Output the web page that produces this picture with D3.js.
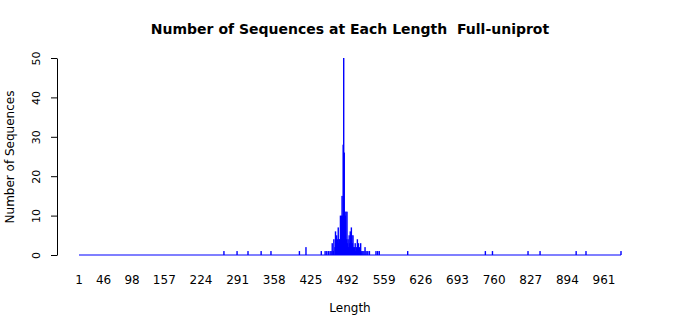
<!DOCTYPE html>
<html>
<head>
<meta charset="utf-8">
<script src="https://cdn.jsdelivr.net/npm/d3@7"></script>
<style>
  body { margin: 0; background: #fff; }
  text { font-family: "DejaVu Sans", sans-serif; }
</style>
</head>
<body>
<svg width="700" height="315"></svg>
<script>
// sequence lengths that have at least one sequence, and how many
const seqLengths = [266, 290, 310, 334, 352, 404, 416, 444, 451, 454, 457, 460, 462,
    464, 466, 467, 469, 470, 471, 472, 473, 474, 475, 476, 477, 478, 479, 480,
    481, 482, 483, 484, 485, 486, 487, 488, 489, 490, 491, 492, 493, 494, 495,
    496, 497, 498, 499, 500, 501, 502, 503, 504, 505, 506, 507, 508, 509, 510,
    511, 512, 513, 514, 516, 518, 520, 522, 524, 526, 529, 532,
    544, 547, 550, 602, 744, 757, 822, 844, 910, 928, 992];
const seqCounts = [1, 1, 1, 1, 1, 1, 2, 1, 1, 1, 1, 1, 1,
    3, 1, 4, 2, 6, 3, 5, 2, 4, 7, 3, 4, 4, 10, 4,
    10, 15, 10, 28, 50, 26, 11, 10, 11, 4, 11, 3, 4, 2, 5,
    3, 6, 5, 7, 5, 3, 5, 2, 1, 2, 3, 1, 2, 1, 4,
    2, 3, 1, 2, 3, 1, 1, 1, 2, 1, 1, 1,
    1, 1, 1, 1, 1, 1, 1, 1, 1, 1, 1];
const lengthRange = [1, 992];
const xTickValues = [1, 46, 98, 157, 224, 291, 358, 425, 492, 559, 626, 693, 760, 827, 894, 961];
const yTickValues = [0, 10, 20, 30, 40, 50];

const bars = seqLengths.map((d, i) => ({len: d, n: seqCounts[i]}));

let svg = d3.select("svg");

let x = d3.scaleLinear()
    .domain(lengthRange)
    .range([79, 621]);

let y = d3.scaleLinear()
    .domain([0, 50])
    .range([255, 58]);

// title
svg.append("text")
    .attr("x", 350)
    .attr("y", 34)
    .attr("text-anchor", "middle")
    .style("font-size", "14px")
    .style("font-weight", "bold")
    .style("white-space", "pre")
    .text("Number of Sequences at Each Length  Full-uniprot");

// baseline made by the empty bars
svg.append("line")
    .attr("x1", x(lengthRange[0]))
    .attr("x2", x(lengthRange[1]))
    .attr("y1", y(0))
    .attr("y2", y(0))
    .attr("stroke", "#0000ff")
    .attr("stroke-width", 1.2);

// bars
svg.append("g")
    .selectAll("rect")
    .data(bars)
    .enter()
    .append("rect")
    .attr("x", d => x(d.len) - 0.7)
    .attr("width", 1.4)
    .attr("y", d => y(d.n))
    .attr("height", d => y(0) - y(d.n))
    .attr("fill", "#0000ff");

// y axis
let yAxis = svg.append("g")
    .attr("transform", "translate(57,0)")
    .call(d3.axisLeft(y).tickValues(yTickValues).tickSize(6).tickSizeOuter(0));
yAxis.select(".domain").attr("stroke", "#000");
yAxis.selectAll("text")
    .attr("x", null).attr("dy", null)
    .attr("text-anchor", "middle")
    .attr("transform", "translate(-17,0) rotate(-90)")
    .style("font-size", "11px")
    .style("font-family", "DejaVu Sans");

// x tick labels (no axis line)
svg.append("g")
    .selectAll("text")
    .data(xTickValues)
    .enter()
    .append("text")
    .attr("x", d => x(d))
    .attr("y", 284)
    .attr("text-anchor", "middle")
    .style("font-size", "12px")
    .text(d => d);

// axis titles
svg.append("text")
    .attr("x", 350)
    .attr("y", 312)
    .attr("text-anchor", "middle")
    .style("font-size", "12px")
    .text("Length");

svg.append("text")
    .attr("transform", "translate(14,157) rotate(-90)")
    .attr("text-anchor", "middle")
    .style("font-size", "12px")
    .text("Number of Sequences");
</script>
</body>
</html>
